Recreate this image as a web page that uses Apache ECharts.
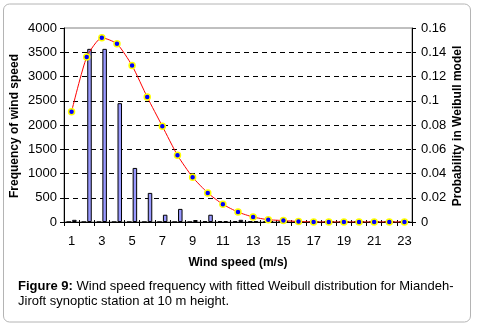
<!DOCTYPE html>
<html>
<head>
<meta charset="utf-8">
<script src="https://cdn.jsdelivr.net/npm/echarts@6/dist/echarts.min.js"></script>
<style>
html,body{margin:0;padding:0;background:#fff;}
#c{width:477px;height:327px;}
</style>
</head>
<body>
<div id="c"></div>
<script>
const categories = ['1','2','3','4','5','6','7','8','9','10','11','12','13','14','15','16','17','18','19','20','21','22','23'];
const freqAux = [0,0,0,0,0,0,0,0,0,15,20,15,15,15,10,10,5,5,5,5,5,5,5];
const freqMain = [45,3570,3570,2450,1115,600,150,270,40,150,20,45,15,10,10,5,5,0,5,0,5,0,5];
const weibull = [0.091,0.136,0.152,0.147,0.129,0.103,0.079,0.055,0.037,0.024,0.0146,0.0082,0.0041,0.0019,0.0012,0.0004,0,0,0,0,0,0,0];
const leftAxisName = 'Frequency of wind speed';
const rightAxisName = 'Probability in Weibull model';
const xAxisName = 'Wind speed (m/s)';
const captionBold = 'Figure 9:';
const captionLine1 = ' Wind speed frequency with fitted Weibull distribution for Miandeh-';
const captionLine2 = 'Jiroft synoptic station at 10 m height.';

const FONT = 'Arial, "Liberation Sans", sans-serif';
const chart = echarts.init(document.getElementById('c'), null, {renderer: 'canvas'});
chart.setOption({
  animation: false,
  grid: {left: 64, right: 65, top: 28, bottom: 105, show: true, borderColor: '#808080', borderWidth: 1, backgroundColor: 'transparent'},
  xAxis: [{
    type: 'category', data: categories, position: 'bottom',
    axisLine: {show: true, lineStyle: {color: '#000', width: 1}},
    axisTick: {show: true, inside: false, length: 4, interval: 0, alignWithLabel: false, lineStyle: {color: '#000'}},
    axisLabel: {interval: 1, margin: 13, fontSize: 13, fontFamily: FONT, color: '#000'},
    splitLine: {show: false}
  }, {
    type: 'category', data: categories, position: 'bottom',
    axisLine: {show: false},
    axisTick: {show: true, inside: true, length: 2, interval: 0, alignWithLabel: false, lineStyle: {color: '#000'}},
    axisLabel: {show: false},
    splitLine: {show: false}
  }],
  yAxis: [{
    type: 'value', min: 0, max: 4000, interval: 500, position: 'left',
    axisLine: {show: true, lineStyle: {color: '#000', width: 1}},
    axisTick: {show: true, inside: false, length: 4, lineStyle: {color: '#000'}},
    axisLabel: {margin: 7, fontSize: 13, fontFamily: FONT, color: '#000', formatter: v => String(v)},
    splitLine: {show: true, showMinLine: false, showMaxLine: false, lineStyle: {color: '#000', type: [5, 4], width: 1}}
  }, {
    type: 'value', min: 0, max: 0.16, interval: 0.02, position: 'right',
    axisLine: {show: true, lineStyle: {color: '#000', width: 1}},
    axisTick: {show: true, inside: false, length: 4, lineStyle: {color: '#000'}},
    axisLabel: {margin: 9, fontSize: 13, fontFamily: FONT, color: '#000',
      formatter: v => String(Number(v.toFixed(2)))},
    splitLine: {show: false}
  }],
  series: [{
    type: 'bar', data: freqAux, xAxisIndex: 0, yAxisIndex: 0,
    barWidth: 4.5, barGap: '25%',
    itemStyle: {color: '#9999FF', borderColor: '#000', borderWidth: 1}
  }, {
    type: 'bar', data: freqMain, xAxisIndex: 0, yAxisIndex: 0,
    barWidth: 4.5, barGap: '25%',
    itemStyle: {color: '#9999FF', borderColor: '#000', borderWidth: 1}
  }, {
    type: 'line', data: weibull, xAxisIndex: 0, yAxisIndex: 1,
    smooth: 0.2, z: 5,
    lineStyle: {color: '#FF0000', width: 1},
    symbol: 'circle', symbolSize: 6,
    itemStyle: {color: '#0000FF', borderColor: '#FFFF00', borderWidth: 1.5}
  }],
  graphic: [{
    type: 'rect', z: -1, silent: true,
    shape: {x: 3.5, y: 4, width: 467, height: 318, r: 6},
    style: {fill: 'none', stroke: '#b4b4b4', lineWidth: 1}
  }, {
    type: 'text', x: 15, y: 126, rotation: Math.PI / 2,
    style: {text: leftAxisName, font: 'bold 12px ' + FONT, fill: '#000', align: 'center', verticalAlign: 'middle'}
  }, {
    type: 'text', x: 458, y: 126, rotation: Math.PI / 2,
    style: {text: rightAxisName, font: 'bold 12px ' + FONT, fill: '#000', align: 'center', verticalAlign: 'middle'}
  }, {
    type: 'text', x: 238, y: 263,
    style: {text: xAxisName, font: 'bold 12px ' + FONT, fill: '#000', align: 'center', verticalAlign: 'middle'}
  }, {
    type: 'text', x: 18, y: 286,
    style: {
      text: '{b|' + captionBold + '}{n|' + captionLine1 + '}',
      verticalAlign: 'middle', align: 'left',
      rich: {
        b: {font: 'bold 13px ' + FONT, fill: '#000'},
        n: {font: '13px ' + FONT, fill: '#000'}
      }
    }
  }, {
    type: 'text', x: 18, y: 301,
    style: {text: captionLine2, font: '13px ' + FONT, fill: '#000', align: 'left', verticalAlign: 'middle'}
  }]
});
</script>
</body>
</html>
